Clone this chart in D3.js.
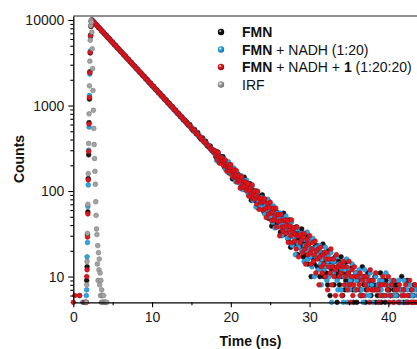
<!DOCTYPE html>
<html>
<head>
<meta charset="utf-8">
<script src="https://cdn.jsdelivr.net/npm/d3@7"></script>
<style>
  body { margin: 0; background: #fff; }
  text { font-family: "Liberation Sans", Arial, sans-serif; }
</style>
</head>
<body>
<svg id="chart" width="417" height="349"></svg>
<script>
// time channels (ns): pre-pulse, rising edge, early decay (0.2 ns), late decay (0.1 ns)
const timeNs = [0.0,0.2,0.4,0.6,0.8,1.0,1.2,1.4,1.6,
  1.65,1.7,1.75,1.8,1.85,1.9,1.95,2.0,2.05,2.1,2.15,2.2,2.25,2.3,2.35,
  2.4,2.6,2.8,3.0,3.2,3.4,3.6,3.8,4.0,4.2,
  4.4,4.6,4.8,5.0,5.2,5.4,5.6,5.8,6.0,6.2,
  6.4,6.6,6.8,7.0,7.2,7.4,7.6,7.8,8.0,8.2,
  8.4,8.6,8.8,9.0,9.2,9.4,9.6,9.8,10.0,10.2,
  10.4,10.6,10.8,11.0,11.2,11.4,11.6,11.8,12.0,12.2,
  12.4,12.6,12.8,13.0,13.2,13.4,13.6,13.8,14.0,14.2,
  14.4,14.6,14.8,15.0,15.2,15.4,15.6,15.8,16.0,16.2,
  16.4,16.6,16.8,17.0,17.2,17.4,17.6,17.8,
  18.0,18.1,18.2,18.3,18.4,18.5,18.6,18.7,18.8,18.9,
  19.0,19.1,19.2,19.3,19.4,19.5,19.6,19.7,19.8,19.9,
  20.0,20.1,20.2,20.3,20.4,20.5,20.6,20.7,20.8,20.9,
  21.0,21.1,21.2,21.3,21.4,21.5,21.6,21.7,21.8,21.9,
  22.0,22.1,22.2,22.3,22.4,22.5,22.6,22.7,22.8,22.9,
  23.0,23.1,23.2,23.3,23.4,23.5,23.6,23.7,23.8,23.9,
  24.0,24.1,24.2,24.3,24.4,24.5,24.6,24.7,24.8,24.9,
  25.0,25.1,25.2,25.3,25.4,25.5,25.6,25.7,25.8,25.9,
  26.0,26.1,26.2,26.3,26.4,26.5,26.6,26.7,26.8,26.9,
  27.0,27.1,27.2,27.3,27.4,27.5,27.6,27.7,27.8,27.9,
  28.0,28.1,28.2,28.3,28.4,28.5,28.6,28.7,28.8,28.9,
  29.0,29.1,29.2,29.3,29.4,29.5,29.6,29.7,29.8,29.9,
  30.0,30.1,30.2,30.3,30.4,30.5,30.6,30.7,30.8,30.9,
  31.0,31.1,31.2,31.3,31.4,31.5,31.6,31.7,31.8,31.9,
  32.0,32.1,32.2,32.3,32.4,32.5,32.6,32.7,32.8,32.9,
  33.0,33.1,33.2,33.3,33.4,33.5,33.6,33.7,33.8,33.9,
  34.0,34.1,34.2,34.3,34.4,34.5,34.6,34.7,34.8,34.9,
  35.0,35.1,35.2,35.3,35.4,35.5,35.6,35.7,35.8,35.9,
  36.0,36.1,36.2,36.3,36.4,36.5,36.6,36.7,36.8,36.9,
  37.0,37.1,37.2,37.3,37.4,37.5,37.6,37.7,37.8,37.9,
  38.0,38.1,38.2,38.3,38.4,38.5,38.6,38.7,38.8,38.9,
  39.0,39.1,39.2,39.3,39.4,39.5,39.6,39.7,39.8,39.9,
  40.0,40.1,40.2,40.3,40.4,40.5,40.6,40.7,40.8,40.9,
  41.0,41.1,41.2,41.3,41.4,41.5,41.6,41.7,41.8,41.9,
  42.0,42.1,42.2,42.3,42.4,42.5,42.6,42.7,42.8,42.9,
  43.0,43.1,43.2,43.3,43.4,43.5,43.6,43.7,43.8,43.9,
  44.0,44.1,44.2,44.3,44.4,44.5,44.6,44.7,44.8,44.9,
  45.0];

// FMN
const fmn = [2,3,1,4,2,3,4,2,5,
  4,9,13,31,57,140,265,630,1190,2480,4120,6640,8420,9700,9920,
  9871,9522,8960,8680,8191,7924,7461,7230,6802,6590,
  6197,6031,5659,5487,5154,5019,4698,4571,4290,4166,
  3912,3801,3570,3466,3251,3167,2968,2890,2706,2641,
  2463,2409,2247,2199,2049,2006,1867,1831,1700,1672,
  1551,1527,1413,1394,1290,1272,1176,1163,1071,1060,
  978,969,891,882,811,804,741,737,675,671,
  641,588,597,541,509,523,470,481,429,405,
  418,374,383,339,327,336,296,301,
  282,251,278,286,245,217,243,252,218,235,
  252,213,190,211,220,184,191,212,162,189,
  170,185,139,167,180,149,140,160,143,158,
  129,143,150,112,129,136,116,145,104,117,
  123,102,110,89,122,105,78,102,92,101,
  93,77,94,100,78,63,80,87,68,79,
  90,69,57,71,77,57,62,76,48,65,
  55,64,39,56,64,48,43,56,47,56,
  40,49,54,33,43,48,37,55,31,40,
  45,33,38,27,46,36,22,36,31,37,
  33,24,34,38,26,18,28,32,22,29,
  36,24,17,26,30,18,22,30,14,24,
  19,25,10,21,26,16,14,22,17,23,
  13,19,22,10,16,19,13,24,10,15,
  18,11,15,8,20,15,6,15,12,16,
  13,8,15,17,10,5,11,15,8,12,
  17,10,6,11,14,7,9,15,4,11,
  8,12,2,9,13,7,5,10,7,11,
  5,9,11,3,7,10,6,13,4,8,
  10,5,7,3,11,8,1,8,6,9,
  7,3,8,10,5,1,6,8,4,7,
  11,5,2,6,9,3,5,9,2,7,
  4,7,0,6,8,4,3,7,4,8,
  3,6,8,1,5,7,3,10,2,5,
  7,3,5,1,9,5,0,6,4,7,
  5,2,6,8,3,0,4,7,3,5,
  8,4,1,5,7,2,4,8,1,5,
  6];

// FMN + NADH (1:20)
const fmnNadh = [3,1,2,4,6,3,5,2,4,
  6,7,17,25,66,118,300,560,1310,2330,4330,6380,8600,9540,10010,
  9935,9420,9081,8590,8270,7842,7549,7140,6880,6512,
  6279,5941,5730,5410,5228,4937,4770,4501,4350,4104,
  3969,3741,3620,3411,3305,3110,3016,2834,2752,2585,
  2512,2357,2290,2151,2088,1957,1905,1786,1739,1628,
  1588,1485,1448,1352,1322,1233,1206,1124,1101,1025,
  1004,936,918,853,837,777,764,709,697,646,
  618,612,566,560,531,494,489,449,445,426,
  392,388,357,355,339,310,311,283,
  270,287,228,262,276,237,224,248,226,244,
  206,223,231,181,202,209,184,219,166,182,
  190,162,170,145,185,162,129,158,144,156,
  144,124,144,151,123,104,124,132,109,121,
  134,107,93,109,116,92,97,114,78,98,
  86,97,65,86,96,75,69,84,73,84,
  64,75,81,54,66,72,59,80,50,61,
  66,51,57,43,67,55,37,54,47,55,
  49,38,51,55,40,30,42,47,34,42,
  51,36,28,38,43,29,33,43,23,35,
  29,36,18,30,36,25,22,31,25,32,
  20,27,31,15,23,27,20,33,16,22,
  26,17,21,13,28,21,10,21,17,22,
  18,12,20,23,14,8,16,19,12,17,
  22,13,9,15,18,10,13,19,5,15,
  11,15,4,12,17,9,7,14,10,14,
  7,12,14,5,10,12,8,16,5,10,
  12,7,9,4,14,10,2,10,7,11,
  9,4,10,12,6,2,7,10,5,9,
  12,6,3,8,10,4,6,11,2,8,
  5,9,1,7,10,4,3,8,5,9,
  3,7,9,2,6,8,4,11,2,6,
  8,4,6,2,9,6,1,6,5,7,
  6,2,7,9,4,1,5,7,3,6,
  9,4,2,5,7,3,4,8,1,6,
  4,6,0,5,7,3,2,6,4,7,
  2,5,7,1,4,6,3,9,1,4,
  3];

// FMN + NADH + 1 (1:20:20)
const fmnNadh1 = [5,6,2,3,6,4,3,5,3,
  5,10,12,29,54,135,290,610,1240,2420,4180,6520,8480,9650,9960,
  9910,9470,9021,8640,8225,7880,7501,7190,6840,6560,
  6238,5982,5690,5457,5188,4979,4731,4541,4316,4140,
  3937,3777,3590,3445,3275,3142,2987,2866,2725,2614,
  2486,2384,2267,2175,2067,1984,1886,1809,1720,1651,
  1569,1506,1431,1374,1305,1254,1191,1143,1086,1043,
  991,953,904,869,825,793,752,724,686,661,
  622,604,579,538,527,506,472,462,431,421,
  396,377,369,344,336,314,308,287,
  295,259,267,234,283,253,211,245,228,241,
  225,198,224,230,194,170,194,203,173,188,
  203,169,149,170,177,145,152,173,127,152,
  136,149,108,134,146,119,110,128,114,127,
  101,115,122,87,103,110,92,118,81,94,
  100,81,88,70,99,84,61,82,74,82,
  75,60,76,81,62,49,64,71,54,64,
  74,55,45,57,63,46,50,63,38,53,
  44,53,30,45,53,38,34,45,38,46,
  32,40,45,25,35,39,30,46,25,33,
  37,26,31,21,38,30,17,30,25,31,
  27,19,29,32,21,14,23,27,18,24,
  30,19,14,21,25,15,18,26,11,20,
  16,21,8,17,22,13,11,18,14,19,
  10,16,19,7,13,16,11,21,8,13,
  16,10,12,6,18,13,4,13,10,14,
  11,6,13,15,8,4,10,13,7,11,
  15,8,5,10,12,6,8,13,4,10,
  7,10,2,8,11,6,4,9,6,10,
  4,8,10,2,7,9,5,12,3,7,
  9,4,7,2,11,7,1,7,5,8,
  6,3,8,10,4,1,6,8,4,7,
  10,5,2,6,8,3,5,9,1,7,
  4,7,0,5,8,3,2,6,4,7,
  2,6,8,1,5,6,3,9,2,5,
  7,3,5,1,8,5,0,5,4,6,
  5,2,6,8,3,0,4,6,2,5,
  5];

// instrument response function
const irfTime = [1.6,1.65,1.7,1.75,1.8,1.85,1.9,1.95,2.0,2.05,
  2.1,2.15,2.2,2.25,2.3,2.35,2.4,2.45,2.5,2.55,
  2.6,2.65,2.7,2.75,2.8,2.85,2.9,2.95,3.0,3.05,
  3.1,3.15,3.2,3.25,3.3,3.35,3.4,3.45,3.5,3.55,
  3.6,3.65,3.7,3.75,3.8,3.85,3.9,3.95,4.0,4.05,
  4.1,4.15,4.2,4.25,4.3];
const irf = [3,5,8,15,32,70,160,360,800,1700,
  3300,5800,8600,9900,9400,7200,4600,2700,1500,880,
  540,350,240,170,120,75,52,36,31,14,
  23,9,19,12,16,8,11,6,9,5,
  7,6,5,4,5,6,5,3,5,4,
  5,5,3,5,2];

const xTicks = [0, 10, 20, 30, 40];
const xMinor = [5, 15, 25, 35, 45];
const yTicks = [10, 100, 1000, 10000];
const yMinor = [6,7,8,9,20,30,40,50,60,70,80,90,200,300,400,500,600,700,800,900,
  2000,3000,4000,5000,6000,7000,8000,9000];

const seriesNames = ["fmn", "fmnNadh", "fmnNadh1", "irf"];
const legendLabels = [
  [["FMN", true]],
  [["FMN", true], [" + NADH (1:20)", false]],
  [["FMN", true], [" + NADH + ", false], ["1", true], [" (1:20:20)", false]],
  [["IRF", false]]
];
const fills = ["#151515", "#2ba6e4", "#e0161d", "#a3a3a3"];
const strokes = ["#000000", "#1a6fae", "#9a0d12", "#6e6e6e"];

var svg = d3.select("#chart");

// scales
var x = d3.scaleLinear().domain([0, 45]).range([73.3, 427.7]);
var y = d3.scaleLog().domain([5, 11140]).range([302.3, 16]);

var series = [
  timeNs.map(function (t, i) { return { t: t, c: fmn[i] }; }),
  timeNs.map(function (t, i) { return { t: t, c: fmnNadh[i] }; }),
  timeNs.map(function (t, i) { return { t: t, c: fmnNadh1[i] }; }),
  irfTime.map(function (t, i) { return { t: t, c: irf[i] }; })
];

// top frame line
svg.append("line")
  .attr("x1", x(0)).attr("x2", x(45))
  .attr("y1", y.range()[1]).attr("y2", y.range()[1])
  .attr("stroke", "#6b6b6b").attr("stroke-width", 1.3);

// points (counts below the axis floor are not shown)
series.forEach(function (data, k) {
  svg.append("g").attr("class", seriesNames[k])
    .selectAll("circle")
    .data(data.filter(function (d) { return d.c >= 5; }))
    .enter().append("circle")
    .attr("cx", function (d) { return x(d.t); })
    .attr("cy", function (d) { return y(d.c); })
    .attr("r", 2.4)
    .attr("fill", fills[k])
    .attr("stroke", strokes[k])
    .attr("stroke-width", 0.5);
});

// X axis
svg.append("g")
  .attr("transform", "translate(0," + y.range()[0] + ")")
  .call(d3.axisBottom(x).tickValues(xTicks).tickFormat(d3.format("d"))
    .tickSize(5).tickPadding(5).tickSizeOuter(0));
svg.append("g")
  .attr("transform", "translate(0," + y.range()[0] + ")")
  .call(d3.axisBottom(x).tickValues(xMinor).tickFormat("").tickSize(3).tickSizeOuter(0))
  .select(".domain").remove();

// Y axis
svg.append("g")
  .attr("transform", "translate(" + x(0) + ",0)")
  .call(d3.axisLeft(y).tickValues(yTicks).tickFormat(d3.format("d"))
    .tickSize(5).tickPadding(4).tickSizeOuter(0));
svg.append("g")
  .attr("transform", "translate(" + x(0) + ",0)")
  .call(d3.axisLeft(y).tickValues(yMinor).tickFormat("").tickSize(3).tickSizeOuter(0))
  .select(".domain").remove();

svg.selectAll(".domain").attr("stroke", "#000").attr("stroke-width", 1.3);
svg.selectAll(".tick line").attr("stroke", "#000").attr("stroke-width", 1.1);
svg.selectAll(".tick text")
  .attr("font-family", "Liberation Sans, Arial, sans-serif")
  .attr("font-size", 14).attr("fill", "#1a1a1a");

// axis titles
svg.append("text")
  .attr("x", 250.5).attr("y", 346)
  .attr("text-anchor", "middle")
  .attr("font-size", 14).attr("font-weight", "bold").attr("fill", "#111")
  .text("Time (ns)");

svg.append("text")
  .attr("transform", "translate(24,159) rotate(-90)")
  .attr("text-anchor", "middle")
  .attr("font-size", 14).attr("font-weight", "bold").attr("fill", "#111")
  .text("Counts");

// legend
var defs = svg.append("defs");
fills.forEach(function (f, k) {
  var g = defs.append("radialGradient").attr("id", "lg" + k)
    .attr("cx", "38%").attr("cy", "35%").attr("r", "65%");
  g.append("stop").attr("offset", "0%").attr("stop-color", "#fff");
  g.append("stop").attr("offset", "35%").attr("stop-color", f);
  g.append("stop").attr("offset", "100%").attr("stop-color", strokes[k]);
});
var legend = svg.append("g").attr("transform", "translate(221,32)");
legendLabels.forEach(function (parts, k) {
  var row = legend.append("g").attr("transform", "translate(0," + (k * 17.5) + ")");
  row.append("circle").attr("r", 3.2).attr("fill", "url(#lg" + k + ")");
  var t = row.append("text").attr("x", 21).attr("y", 5)
    .attr("font-size", 14).attr("fill", "#111");
  parts.forEach(function (p) {
    t.append("tspan").attr("font-weight", p[1] ? "bold" : "normal").text(p[0]);
  });
});
</script>
</body>
</html>
